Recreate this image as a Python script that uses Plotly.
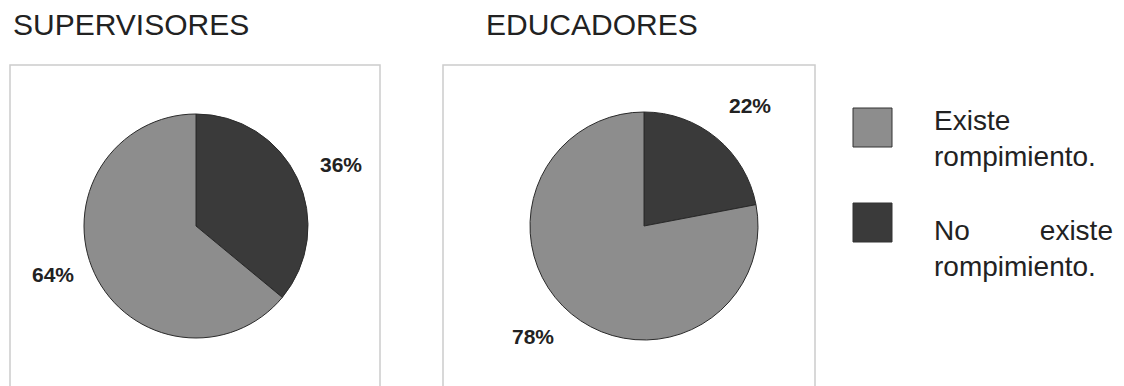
import math
import plotly.graph_objects as go

# Survey results: is there a break ("rompimiento")?
categories = ["Existe rompimiento.", "No existe rompimiento."]
groups = ["SUPERVISORES", "EDUCADORES"]
supervisores = [64, 36]
educadores = [78, 22]

LIGHT = "#8d8d8d"
DARK = "#3a3a3a"
EDGE = "#2a2a2a"
TEXT = "#222222"
FONT = "Liberation Sans, Arial, sans-serif"
W, H = 1124, 386

fig = go.Figure()

# pixel geometry of each pie: center x, center y (from top), radius,
# plus small nudges for the outside percentage labels (dark, light slice)
pies = [
    dict(cx=196, cy=226, r=112, vals=supervisores, nudge=[(4, 5), (-2, -18)]),
    dict(cx=644, cy=226, r=114, vals=educadores, nudge=[(5, 1), (-10, -11)]),
]

annotations = []
for p, name in zip(pies, groups):
    cx, cy, r, vals = p["cx"], p["cy"], p["r"], p["vals"]
    # dark slice first, starting at 12 o'clock and running clockwise
    order = [1, 0]
    fig.add_trace(go.Pie(
        labels=[categories[i] for i in order],
        values=[vals[i] for i in order],
        marker=dict(colors=[DARK, LIGHT], line=dict(color=EDGE, width=1)),
        sort=False, direction="clockwise", rotation=0,
        textinfo="none", hoverinfo="label+percent", showlegend=False,
        domain=dict(x=[(cx - r) / W, (cx + r) / W],
                    y=[(H - cy - r) / H, (H - cy + r) / H]),
        name=name,
    ))
    total = sum(vals)
    start = 0.0
    for k, i in enumerate(order):
        frac = vals[i] / total
        mid = (start + frac / 2) * 2 * math.pi
        start += frac
        dist = r + 44
        dx, dy = p["nudge"][k]
        lx = cx + dist * math.sin(mid) + dx
        ly = cy - dist * math.cos(mid) + dy
        annotations.append(dict(
            x=lx / W, y=1 - ly / H, xref="paper", yref="paper",
            text=f"<b>{vals[i]}%</b>", showarrow=False,
            font=dict(family=FONT, size=21, color=TEXT),
            xanchor="center", yanchor="middle"))

# group titles
for name, x in zip(groups, [11, 484]):
    annotations.append(dict(
        x=x / W, y=1 - 24 / H, xref="paper", yref="paper", text=name,
        showarrow=False, xanchor="left", yanchor="middle",
        font=dict(family=FONT, size=30, color=TEXT)))

shapes = []
# chart frames
for x0, x1 in [(10, 380), (443, 815)]:
    shapes.append(dict(type="rect", xref="paper", yref="paper",
                       x0=x0 / W, x1=x1 / W, y0=-0.02, y1=1 - 65 / H,
                       line=dict(color="#cccccc", width=1.5)))

# legend swatches
for (y0, y1), col in zip([(108, 147), (203, 242)], [LIGHT, DARK]):
    shapes.append(dict(type="rect", xref="paper", yref="paper",
                       x0=853 / W, x1=892 / W, y0=1 - y1 / H, y1=1 - y0 / H,
                       fillcolor=col, line=dict(color="#333333", width=1)))

# legend text: two-line labels, the second one spread to the full width
gap = "\u00a0" * 9
first_word, second_word = categories[1].split(" ", 1)[0], "existe"
legend_entries = [
    ("Existe<br>rompimiento.", 139),
    (f"{first_word}{gap}{second_word}<br>rompimiento.", 249),
]
for txt, y in legend_entries:
    annotations.append(dict(
        x=932 / W, y=1 - y / H, xref="paper", yref="paper", text=txt,
        showarrow=False, xanchor="left", yanchor="middle", align="left",
        font=dict(family=FONT, size=28, color=TEXT)))

fig.update_layout(
    width=W, height=H, margin=dict(l=0, r=0, t=0, b=0),
    paper_bgcolor="white", plot_bgcolor="white",
    annotations=annotations, shapes=shapes,
)

fig.write_html("out.html")
